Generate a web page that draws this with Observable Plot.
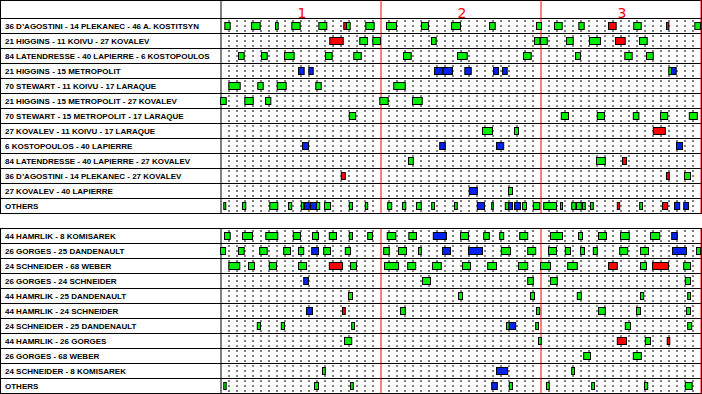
<!DOCTYPE html>
<html>
<head>
<meta charset="utf-8">
<script src="https://cdn.jsdelivr.net/npm/d3@7"></script>
<script src="https://cdn.jsdelivr.net/npm/@observablehq/plot@0.6"></script>
<style>
  html, body { margin: 0; padding: 0; background: #ffffff; }
  #chart svg { display: block; }
</style>
</head>
<body>
<div id="chart"></div>
<script>
// ---- Data (game time in minutes, 0–60) ----
const periods = ["1", "2", "3"];

const forwardLines = [
  "36 D\u2019AGOSTINI - 14 PLEKANEC - 46 A. KOSTITSYN",
  "21 HIGGINS - 11 KOIVU - 27 KOVALEV",
  "84 LATENDRESSE - 40 LAPIERRE - 6 KOSTOPOULOS",
  "21 HIGGINS - 15 METROPOLIT",
  "70 STEWART - 11 KOIVU - 17 LARAQUE",
  "21 HIGGINS - 15 METROPOLIT - 27 KOVALEV",
  "70 STEWART - 15 METROPOLIT - 17 LARAQUE",
  "27 KOVALEV - 11 KOIVU - 17 LARAQUE",
  "6 KOSTOPOULOS - 40 LAPIERRE",
  "84 LATENDRESSE - 40 LAPIERRE - 27 KOVALEV",
  "36 D\u2019AGOSTINI - 14 PLEKANEC - 27 KOVALEV",
  "27 KOVALEV - 40 LAPIERRE",
  "OTHERS"
];

const defensePairs = [
  "44 HAMRLIK - 8 KOMISAREK",
  "26 GORGES - 25 DANDENAULT",
  "24 SCHNEIDER - 68 WEBER",
  "26 GORGES - 24 SCHNEIDER",
  "44 HAMRLIK - 25 DANDENAULT",
  "44 HAMRLIK - 24 SCHNEIDER",
  "24 SCHNEIDER - 25 DANDENAULT",
  "44 HAMRLIK - 26 GORGES",
  "26 GORGES - 68 WEBER",
  "24 SCHNEIDER - 8 KOMISAREK",
  "OTHERS"
];

// shift segments per row: [start, end, strength] ; g = even, r = short-handed, b = power play
const forwardShifts = [
  [[0.54,1.21,"g"],[3.88,4.96,"g"],[6.88,7.21,"g"],[8.91,9.96,"g"],[12.29,13.29,"g"],[15.41,15.75,"r"],[15.75,16.21,"g"],[18.16,19.21,"g"],[20.75,22,"g"],[25.13,26,"g"],[28.88,30,"g"],[33.63,34.34,"g"],[39.5,40.13,"g"],[41.75,42.71,"g"],[44.79,45.46,"g"],[48.5,49.46,"r"],[51.66,52.59,"g"],[55.75,56.04,"r"],[59.29,60,"g"]],
  [[13.66,15.34,"r"],[17.41,18.38,"g"],[19.04,20,"g"],[26.38,26.96,"g"],[39.25,39.91,"g"],[40,40.84,"g"],[43.25,44.09,"g"],[46.13,47.5,"g"],[49.38,50.59,"r"],[52.38,53.34,"g"]],
  [[2.25,2.96,"g"],[5.13,5.84,"g"],[8,9.21,"g"],[13.13,13.96,"g"],[16.66,17.59,"g"],[22.88,23.84,"g"],[29.63,30.84,"g"],[37.88,38.84,"g"],[44.38,45,"g"],[50.54,51.46,"g"],[53.25,54.09,"g"]],
  [[9.75,10.46,"b"],[11.04,11.59,"b"],[26.75,27.75,"b"],[27.84,29,"b"],[30.54,31.34,"b"],[34.13,34.75,"b"],[35.25,35.84,"b"],[56.04,56.38,"g"],[56.38,56.96,"b"]],
  [[1.04,2.46,"g"],[4.66,5.34,"g"],[7.09,8.21,"g"],[11.91,12.59,"g"],[21.66,23.09,"g"]],
  [[0,0.71,"g"],[3.04,4.09,"g"],[5.63,6.29,"g"],[19.91,20.96,"g"],[24,25.21,"g"]],
  [[16.1,16.9,"g"],[42.6,43.5,"g"],[47.1,48,"g"],[51.6,52.3,"g"],[55,55.9,"g"],[58.6,59.6,"g"]],
  [[32.75,34,"g"],[36.75,37.25,"g"],[54.1,55.6,"r"]],
  [[10.25,11,"b"],[27.4,28.1,"b"],[34.5,35.4,"b"],[57,57.75,"b"]],
  [[23.5,24.1,"g"],[47,48.1,"g"],[50.25,50.75,"r"]],
  [[15.1,15.6,"r"],[55.75,56.1,"r"],[58,58.75,"g"]],
  [[31.1,32.1,"b"],[36,36.5,"g"]],
  [[0.41,0.66,"g"],[2.75,3.16,"g"],[6.16,7.16,"g"],[8.5,8.9,"g"],[10.1,10.4,"g"],[10.5,11.1,"b"],[11.25,12,"b"],[12,12.4,"g"],[13,13.75,"g"],[16.1,16.5,"g"],[18.1,18.4,"g"],[20.9,21.4,"g"],[22.75,23.16,"g"],[24.5,25.1,"g"],[26.4,26.75,"g"],[29.25,29.6,"g"],[32.1,33,"b"],[33.9,34.1,"g"],[35.6,36,"g"],[36,36.5,"b"],[36.75,37.5,"b"],[37.75,38.25,"g"],[39.1,39.9,"g"],[40.4,42,"g"],[42.5,42.75,"g"],[43.9,44.4,"g"],[44.5,45.1,"g"],[45.25,45.6,"g"],[46.25,46.6,"g"],[49.6,49.9,"r"],[52.4,52.75,"g"],[55.25,55.9,"r"],[56.75,57.4,"b"],[57.9,58.5,"b"]]
];

const defenseShifts = [
  [[0.5,1.21,"g"],[2.75,4,"g"],[5.66,7.16,"g"],[9.1,10,"g"],[11.5,12.25,"g"],[13.6,14.5,"g"],[16.1,16.5,"g"],[18.4,19,"g"],[20.84,21.91,"g"],[23.54,24.5,"g"],[26.6,28.25,"b"],[30,31,"g"],[32.9,33.6,"g"],[34.9,35.4,"g"],[37.4,38.4,"g"],[41.25,42.75,"g"],[44.75,45.25,"g"],[47.25,48.25,"g"],[50,51.1,"g"],[53.75,54.9,"g"],[56.4,57.1,"b"]],
  [[0,0.63,"g"],[2.25,2.96,"g"],[4.9,5.84,"g"],[7.9,8.75,"g"],[9.75,10.4,"g"],[11.4,12.25,"b"],[12.9,13.75,"g"],[15.6,16.25,"g"],[20.4,21.1,"g"],[22.25,23.25,"g"],[24.75,25.1,"g"],[27.75,28.75,"b"],[31,32.75,"b"],[35.1,36.25,"g"],[38.4,39.4,"g"],[41,42,"g"],[43.1,43.75,"g"],[45,45.5,"g"],[46.6,47.1,"g"],[49.9,50.9,"g"],[52.5,53.5,"g"],[56.5,58.25,"b"],[59.5,60,"g"]],
  [[1.04,2.41,"g"],[3.5,4.25,"g"],[6.1,7,"g"],[9.75,10.75,"g"],[13.6,15.25,"r"],[16.25,17,"g"],[20.5,22.25,"g"],[23.4,24.4,"g"],[26.5,27.6,"g"],[30.25,31.25,"g"],[33.4,34.5,"g"],[37.25,38.4,"g"],[40,41.25,"g"],[43.4,44.6,"g"],[48.5,49.6,"r"],[52.5,53.25,"g"],[54,56,"r"],[57.9,58.75,"g"]],
  [[10.4,11,"b"],[25.25,26.25,"g"],[38.4,39.1,"g"],[41.25,42.1,"g"],[58.1,58.75,"g"]],
  [[16,16.5,"g"],[29.75,30.25,"g"],[38.75,39.25,"g"],[44.6,45.1,"g"],[52.5,52.9,"g"],[58.4,58.75,"g"]],
  [[10.75,11.5,"b"],[15.25,15.6,"r"],[22.5,23.1,"g"],[39.5,39.9,"g"],[47.25,48.1,"g"],[52,52.5,"g"],[58.25,58.75,"g"]],
  [[4.6,5,"g"],[7.6,8,"g"],[16.4,16.75,"g"],[35.75,36.1,"g"],[36.1,36.9,"b"],[39.4,39.75,"g"],[50.6,51.25,"g"],[58.4,58.9,"g"]],
  [[15.5,16.4,"g"],[39.75,40.1,"g"],[49.6,50.75,"r"],[53.1,53.75,"g"],[55.84,56.16,"r"]],
  [[45.4,46.25,"g"],[51.6,52.6,"g"]],
  [[12.75,13.1,"g"],[34.5,35.9,"b"],[43.9,44.25,"g"]],
  [[0.41,0.71,"g"],[11.75,12.25,"g"],[16.25,16.6,"g"],[33.9,34.6,"b"],[36.1,36.5,"g"],[40.75,41.1,"g"],[46.4,46.75,"g"],[53,53.4,"g"],[58.1,58.96,"g"]]
];

// ---- Tables built from the arrays ----
const rows = [
  ...forwardLines.map((label, i) => ({key: "F" + i, label})),
  {key: "gap", label: ""},
  ...defensePairs.map((label, i) => ({key: "D" + i, label}))
];
const dataRows = rows.filter(r => r.key !== "gap");
const shifts = [
  ...forwardShifts.flatMap((segs, i) => segs.map(([s, e, c]) => ({key: "F" + i, s, e, c}))),
  ...defenseShifts.flatMap((segs, i) => segs.map(([s, e, c]) => ({key: "D" + i, s, e, c})))
];
const gridMinutes = d3.range(1, 60).filter(m => m % 20 !== 0);
const grid = dataRows.flatMap(r => gridMinutes.map(m => ({key: r.key, m})));
const periodEnds = [20, 40, 60];
const redTicks = dataRows.flatMap(r => periodEnds.map(m => ({key: r.key, m})));
const periodLabels = periods.map((p, i) => ({p, m: i * 20 + 10}));

const LABEL_START = -27.5;   // left edge of the label column, in minutes of the x scale
const RIGHT_EDGE = 60.125;

const chart = Plot.plot({
  width: 702,
  height: 394,
  margin: 0,
  style: {background: "#ffffff", fontFamily: "'Liberation Sans', Arial, sans-serif", fontSize: "8px"},
  x: {type: "linear", domain: [LABEL_START, 60], range: [0.5, 700.5], axis: null},
  y: {type: "band", domain: rows.map(r => r.key), range: [18.5, 393.5], padding: 0, round: false, axis: null},
  color: {domain: ["g", "r", "b"], range: ["#00ee00", "#ff0000", "#0022ee"]},
  marks: [
    // header row
    Plot.rect([0], {x1: () => LABEL_START, x2: () => RIGHT_EDGE, insetTop: 0.5, insetBottom: 394 - 18.5, fill: "white", stroke: "black"}),
    Plot.ruleX([0], {x: d => d, insetBottom: 394 - 18.5, stroke: "black"}),
    Plot.ruleX(periodEnds, {x: d => d, insetBottom: 394 - 18.5, stroke: "#ff0000"}),
    Plot.text(periodLabels, {x: "m", text: "p", frameAnchor: "top", dy: 8, dx: 1, fill: "#ff0000", fontSize: 14, fontFamily: "'DejaVu Sans', sans-serif"}),
    // row cells
    Plot.barX(dataRows, {x1: () => LABEL_START, x2: () => RIGHT_EDGE, y: "key", fill: "white", stroke: "black", inset: 0}),
    Plot.tickX(dataRows, {x: () => 0, y: "key", stroke: "black"}),
    // dotted minute grid
    Plot.tickX(grid, {x: "m", y: "key", stroke: "black", strokeDasharray: "2,3", strokeDashoffset: -1.5}),
    // period lines
    Plot.tickX(redTicks, {x: "m", y: "key", stroke: "#ff0000"}),
    // shifts
    Plot.barX(shifts, {x1: "s", x2: "e", y: "key", fill: "c", stroke: "black", insetTop: 4, insetBottom: 4}),
    // labels
    Plot.text(dataRows, {x: () => LABEL_START, y: "key", text: "label", textAnchor: "start", dx: 4, fill: "black", fontSize: 8, fontWeight: "bold", letterSpacing: "-0.1px"})
  ]
});
document.getElementById("chart").appendChild(chart);
</script>
</body>
</html>
